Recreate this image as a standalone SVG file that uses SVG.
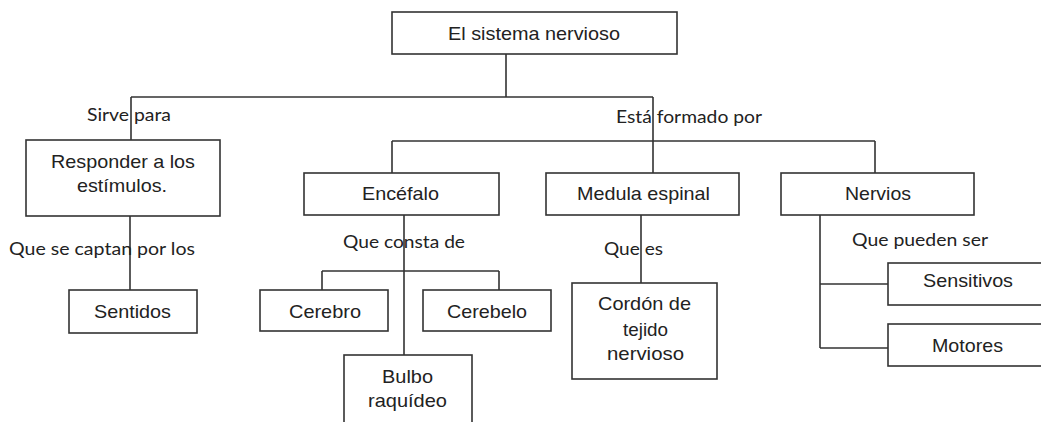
<svg xmlns="http://www.w3.org/2000/svg" width="1041" height="422" viewBox="0 0 1041 422">
<style>
.box{fill:#fff;stroke:#333;stroke-width:1.6}
.t{font-family:"Liberation Sans",Arial,sans-serif;font-size:18.5px;fill:#222;text-anchor:middle}
.l{font-family:Lato,"Open Sans",sans-serif;font-size:17.5px;fill:#222}
.c{fill:none;stroke:#333;stroke-width:1.6}
</style>
<rect width="1041" height="422" fill="#fff"/>
<g id="connectors">
<path class="c" d="M506 54V97M131 97H653M131 97V140M653 97V173M392 141H875M392 141V173M875 141V173"/>
<path class="c" d="M130 216V290"/>
<path class="c" d="M404 215V355M322 271H499M322 271V290M499 271V290"/>
<path class="c" d="M641 215V283"/>
<path class="c" d="M820 215V348M820 284H888M820 348H888"/>
</g>
<g id="labels">
<text class="l" x="87" y="121" textLength="84" lengthAdjust="spacingAndGlyphs">Sirve para</text>
<text class="l" x="616" y="123" textLength="146" lengthAdjust="spacingAndGlyphs">Está formado por</text>
<text class="l" x="9" y="255" textLength="186" lengthAdjust="spacingAndGlyphs">Que se captan por los</text>
<text class="l" x="343" y="248" textLength="122" lengthAdjust="spacingAndGlyphs">Que consta de</text>
<text class="l" x="604" y="255" textLength="59" lengthAdjust="spacingAndGlyphs">Que es</text>
<text class="l" x="852" y="246" textLength="136" lengthAdjust="spacingAndGlyphs">Que pueden ser</text>
</g>
<g id="n-sistema"><rect class="box" x="392" y="12" width="285" height="42"/><text class="t" x="534" y="40" textLength="172" lengthAdjust="spacingAndGlyphs">El sistema nervioso</text></g>
<g id="n-responder"><rect class="box" x="26" y="140" width="194" height="76"/><text class="t" x="123" y="168" textLength="144" lengthAdjust="spacingAndGlyphs">Responder a los</text><text class="t" x="122" y="192" textLength="90" lengthAdjust="spacingAndGlyphs">estímulos.</text></g>
<g id="n-sentidos"><rect class="box" x="69" y="290" width="128" height="43"/><text class="t" x="132.5" y="318" textLength="77" lengthAdjust="spacingAndGlyphs">Sentidos</text></g>
<g id="n-encefalo"><rect class="box" x="304" y="173" width="195" height="42"/><text class="t" x="400.5" y="200" textLength="77" lengthAdjust="spacingAndGlyphs">Encéfalo</text></g>
<g id="n-medula"><rect class="box" x="546" y="173" width="193" height="42"/><text class="t" x="643.5" y="200" textLength="133" lengthAdjust="spacingAndGlyphs">Medula espinal</text></g>
<g id="n-nervios"><rect class="box" x="781" y="173" width="193" height="42"/><text class="t" x="878" y="200" textLength="66" lengthAdjust="spacingAndGlyphs">Nervios</text></g>
<g id="n-cerebro"><rect class="box" x="260" y="290" width="128" height="41"/><text class="t" x="325" y="318" textLength="72" lengthAdjust="spacingAndGlyphs">Cerebro</text></g>
<g id="n-cerebelo"><rect class="box" x="423" y="290" width="128" height="41"/><text class="t" x="487" y="318" textLength="80" lengthAdjust="spacingAndGlyphs">Cerebelo</text></g>
<g id="n-bulbo"><rect class="box" x="344" y="355" width="128" height="80"/><text class="t" x="407.5" y="383" textLength="51" lengthAdjust="spacingAndGlyphs">Bulbo</text><text class="t" x="407.5" y="407" textLength="79" lengthAdjust="spacingAndGlyphs">raquídeo</text></g>
<g id="n-cordon"><rect class="box" x="572" y="283" width="145" height="96"/><text class="t" x="644.5" y="310" textLength="93" lengthAdjust="spacingAndGlyphs">Cordón de</text><text class="t" x="645.5" y="336" textLength="45" lengthAdjust="spacingAndGlyphs">tejido</text><text class="t" x="645.5" y="360" textLength="77" lengthAdjust="spacingAndGlyphs">nervioso</text></g>
<g id="n-sensitivos"><rect class="box" x="888" y="263" width="170" height="42"/><text class="t" x="968" y="287" textLength="90" lengthAdjust="spacingAndGlyphs">Sensitivos</text></g>
<g id="n-motores"><rect class="box" x="888" y="324" width="170" height="42"/><text class="t" x="967.5" y="352" textLength="71" lengthAdjust="spacingAndGlyphs">Motores</text></g>
</svg>
